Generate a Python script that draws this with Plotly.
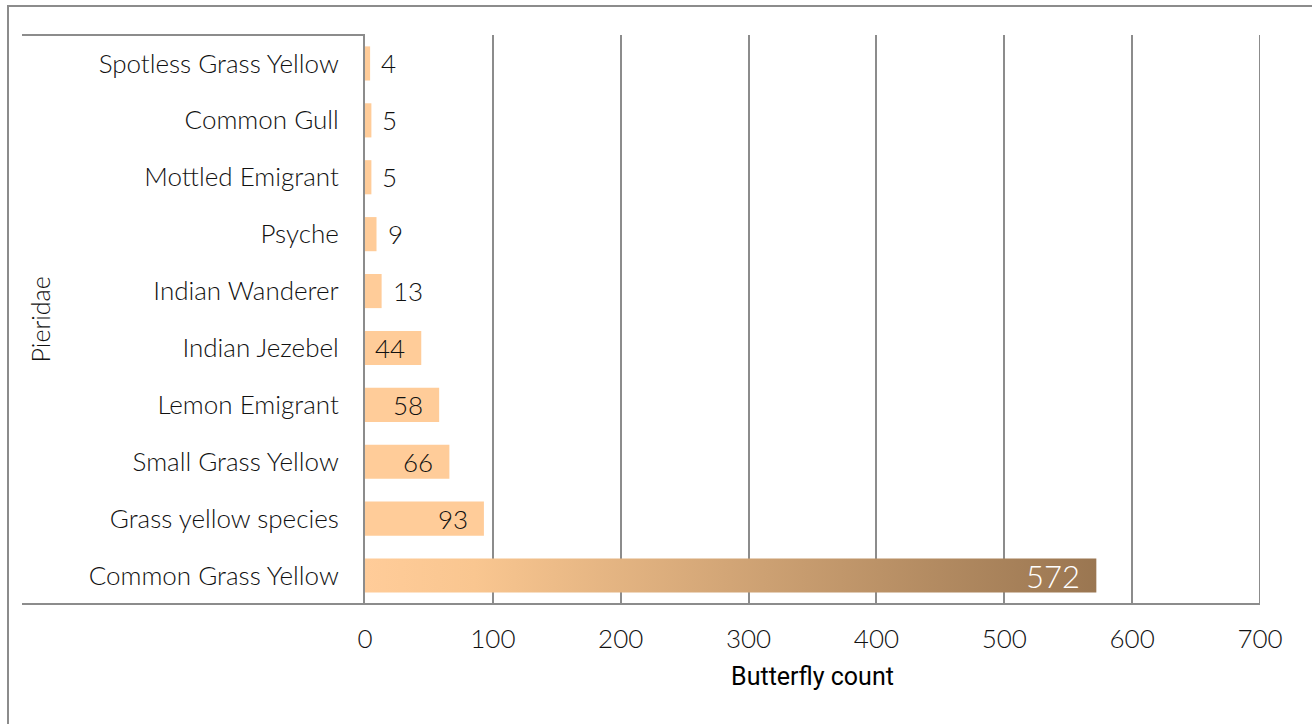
import plotly.graph_objects as go

# Pieridae butterfly counts, listed bottom to top
species = [
    "Common Grass Yellow", "Grass yellow species", "Small Grass Yellow",
    "Lemon Emigrant", "Indian Jezebel", "Indian Wanderer", "Psyche",
    "Mottled Emigrant", "Common Gull", "Spotless Grass Yellow",
]
counts = [572, 93, 66, 58, 44, 13, 9, 5, 5, 4]
family = "Pieridae"
x_ticks = [0, 100, 200, 300, 400, 500, 600, 700]

# styling
W, H = 1312, 724
ML, MR, MT, MB = 365, 52, 35, 120
BAR_HALF = 0.3
PEACH = "#FFCC99"
BROWN = "#9A7651"
GRID = "#8C8C8C"
FONT = "Lato, 'Open Sans', sans-serif"
TITLE_FONT = "'Liberation Sans Narrow', Roboto, sans-serif"
TEXT = "#111111"

fig = go.Figure()

top = max(counts)
for i, (name, v) in enumerate(zip(species, counts)):
    xs = [0, v, v, 0, 0]
    ys = [i - BAR_HALF, i - BAR_HALF, i + BAR_HALF, i + BAR_HALF, i - BAR_HALF]
    if v == top:
        grad = dict(type="horizontal", start=0, stop=v,
                    colorscale=[[0, PEACH], [0.15, "#F9C690"], [1, BROWN]])
        fig.add_trace(go.Scatter(x=xs, y=ys, mode="lines", fill="toself",
                                 fillgradient=grad, line=dict(width=0),
                                 hoverinfo="skip", showlegend=False))
    else:
        fig.add_trace(go.Scatter(x=xs, y=ys, mode="lines", fill="toself",
                                 fillcolor=PEACH, line=dict(width=0),
                                 hoverinfo="skip", showlegend=False))

# value labels: inside the bar end for longer bars, outside for short ones
annotations = []
for i, v in enumerate(counts):
    if v == top:
        annotations.append(dict(x=v, y=i, text=str(v), showarrow=False,
                                xanchor="right", xshift=-14,
                                font=dict(family=FONT, size=31, weight=300,
                                          color="white")))
    elif v >= 40:
        annotations.append(dict(x=v, y=i, text=str(v), showarrow=False,
                                xanchor="right", xshift=-14,
                                font=dict(family=FONT, size=26, weight=300,
                                          color=TEXT)))
    else:
        annotations.append(dict(x=v, y=i, text=str(v), showarrow=False,
                                xanchor="left", xshift=9,
                                font=dict(family=FONT, size=26, weight=300,
                                          color=TEXT)))

# outer group label
pw = W - ML - MR
ph = H - MT - MB
def px_x(p):
    return (p - ML) / pw
def px_y(p):
    return 1 - (p - MT) / ph

annotations.append(dict(xref="paper", yref="paper", x=px_x(39), y=0.5,
                        text=family, textangle=-90, showarrow=False,
                        xanchor="center", yanchor="middle",
                        font=dict(family=FONT, size=25, weight=300, color=TEXT)))

shapes = [
    # outer chart border (top and left edges visible)
    dict(type="rect", xref="paper", yref="paper",
         x0=px_x(8), x1=px_x(W + 20), y0=px_y(6), y1=px_y(H + 20),
         line=dict(color=GRID, width=2), layer="below"),
    # category-level frame lines
    dict(type="line", xref="paper", yref="paper",
         x0=px_x(22), x1=0, y0=1, y1=1, line=dict(color=GRID, width=2)),
    dict(type="line", xref="paper", yref="paper",
         x0=px_x(22), x1=1, y0=0, y1=0, line=dict(color=GRID, width=2)),
]

# closing gridline at the far end of the value axis
shapes.append(dict(type="line", xref="x", yref="paper",
                   x0=x_ticks[-1], x1=x_ticks[-1], y0=0, y1=1,
                   line=dict(color=GRID, width=2)))

fig.update_layout(
    width=W, height=H,
    margin=dict(l=ML, r=MR, t=MT, b=MB),
    paper_bgcolor="white", plot_bgcolor="white",
    showlegend=False,
    annotations=annotations,
    shapes=shapes,
    xaxis=dict(range=[0, 700], tickvals=x_ticks, showgrid=True,
               gridcolor=GRID, gridwidth=2, zeroline=False,
               showline=False, ticks="", ticklabelstandoff=17,
               tickfont=dict(family=FONT, size=26, weight=300, color=TEXT),
               title=dict(text="Butterfly count", standoff=14,
                          font=dict(family=TITLE_FONT, size=25, color="#000000")),
               fixedrange=True),
    yaxis=dict(range=[-0.5, len(species) - 0.5],
               tickvals=list(range(len(species))), ticktext=species,
               showgrid=False, zeroline=False,
               showline=True, linecolor=GRID, linewidth=2,
               ticks="", ticklabelstandoff=19,
               tickfont=dict(family=FONT, size=26, weight=300, color=TEXT),
               fixedrange=True),
)

fig.write_html("out.html")
